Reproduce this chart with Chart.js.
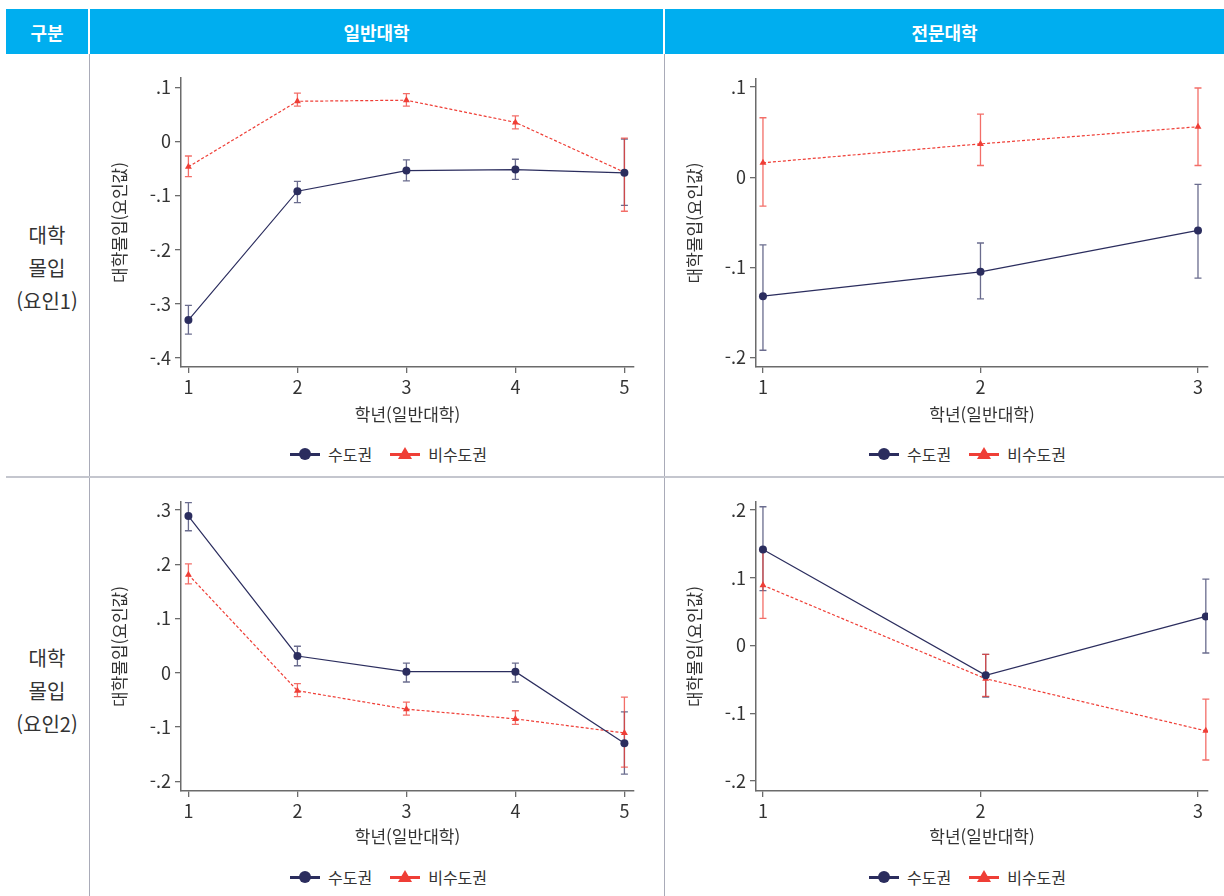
<!DOCTYPE html>
<html lang="ko">
<head>
<meta charset="utf-8">
<script src="https://cdn.jsdelivr.net/npm/chart.js@4.4.1/dist/chart.umd.min.js"></script>
<style>
  body { margin: 0; background: #fff; font-family: "Noto Sans CJK KR", "Noto Sans", sans-serif; }
  #page { position: relative; width: 1224px; height: 896px; overflow: hidden; }
  .hd { position: absolute; top: 9px; height: 45px; background: #00aeef; color: #fff; font-weight: bold;
        font-size: 18px; display: flex; align-items: center; justify-content: center; }
  .rowlab { position: absolute; left: 6px; width: 82px; text-align: center; font-size: 20px; line-height: 33px; color: #333; }
  .vline { position: absolute; top: 54px; width: 1.5px; height: 842px; background: #a9abb8; }
  .hline { position: absolute; left: 6px; width: 1218px; top: 476px; height: 2px; background: #c4c6ce; }
  canvas { position: absolute; }
  .legend { position: absolute; display: flex; align-items: center; font-size: 16px; color: #333; }
  .legend .item { display: flex; align-items: center; margin-right: 18px; }
  .legend .mk { position: relative; width: 30px; height: 12px; margin-right: 8px; }
  .legend .ln { position: absolute; left: 0; top: 5px; width: 30px; height: 3px; }
  .legend .dot { position: absolute; left: 9px; top: 0; width: 12px; height: 12px; border-radius: 50%; }
  .legend .tri { position: absolute; left: 8px; top: -1px; width: 0; height: 0;
                 border-left: 7px solid transparent; border-right: 7px solid transparent; border-bottom: 12px solid #ef3e36; }
</style>
</head>
<body>
<div id="page">
  <div class="hd" style="left:6px;width:82px;">구분</div>
  <div class="hd" style="left:90px;width:573px;">일반대학</div>
  <div class="hd" style="left:665px;width:559px;">전문대학</div>

  <div class="vline" style="left:88.5px;"></div>
  <div class="vline" style="left:663.5px;"></div>
  <div class="hline"></div>

  <div class="rowlab" style="top:218px;">대학<br>몰입<br>(요인1)</div>
  <div class="rowlab" style="top:641px;">대학<br>몰입<br>(요인2)</div>

  <canvas id="c1" width="573" height="380" style="left:90px;top:55px;"></canvas>
  <canvas id="c2" width="559" height="380" style="left:665px;top:55px;"></canvas>
  <canvas id="c3" width="573" height="380" style="left:90px;top:477px;"></canvas>
  <canvas id="c4" width="559" height="380" style="left:665px;top:477px;"></canvas>

  <div class="legend" style="left:290px;top:442px;"></div>
  <div class="legend" style="left:869px;top:442px;"></div>
  <div class="legend" style="left:290px;top:865px;"></div>
  <div class="legend" style="left:869px;top:865px;"></div>
</div>

<script>
  const seriesNames = ['수도권', '비수도권'];
  const xTitle = '학년(일반대학)';
  const yTitle = '대학몰입(요인값)';

  const gradesGeneral = [1, 2, 3, 4, 5];
  const gradesJunior = [1, 2, 3];
  const gradesJunior2 = [1, 2.024, 3.036];

  // 일반대학 - 요인1
  const metroG1 = [-0.330, -0.092, -0.054, -0.052, -0.058];
  const metroG1Lo = [-0.356, -0.113, -0.073, -0.070, -0.118];
  const metroG1Hi = [-0.303, -0.074, -0.034, -0.033, 0.004];
  const nonMetroG1 = [-0.047, 0.074, 0.076, 0.035, -0.057];
  const nonMetroG1Lo = [-0.065, 0.065, 0.065, 0.023, -0.129];
  const nonMetroG1Hi = [-0.027, 0.089, 0.088, 0.047, 0.006];
  const yTicksG1 = [0.1, 0, -0.1, -0.2, -0.3, -0.4];

  // 전문대학 - 요인1
  const metroJ1 = [-0.132, -0.105, -0.059];
  const metroJ1Lo = [-0.192, -0.135, -0.112];
  const metroJ1Hi = [-0.075, -0.073, -0.008];
  const nonMetroJ1 = [0.016, 0.037, 0.056];
  const nonMetroJ1Lo = [-0.032, 0.013, 0.013];
  const nonMetroJ1Hi = [0.066, 0.070, 0.099];
  const yTicksJ1 = [0.1, 0, -0.1, -0.2];

  // 일반대학 - 요인2
  const metroG2 = [0.289, 0.031, 0.002, 0.002, -0.130];
  const metroG2Lo = [0.262, 0.013, -0.017, -0.017, -0.187];
  const metroG2Hi = [0.314, 0.049, 0.018, 0.018, -0.072];
  const nonMetroG2 = [0.181, -0.033, -0.067, -0.085, -0.111];
  const nonMetroG2Lo = [0.164, -0.044, -0.078, -0.095, -0.174];
  const nonMetroG2Hi = [0.201, -0.020, -0.054, -0.070, -0.045];
  const yTicksG2 = [0.3, 0.2, 0.1, 0, -0.1, -0.2];

  // 전문대학 - 요인2
  const metroJ2 = [0.142, -0.044, 0.043];
  const metroJ2Lo = [0.081, -0.076, -0.011];
  const metroJ2Hi = [0.205, -0.013, 0.098];
  const nonMetroJ2 = [0.089, -0.049, -0.126];
  const nonMetroJ2Lo = [0.040, -0.075, -0.169];
  const nonMetroJ2Hi = [0.140, -0.013, -0.079];
  const yTicksJ2 = [0.2, 0.1, 0, -0.1, -0.2];

  const navy = '#2b2d5e';
  const navyBar = 'rgba(43, 45, 94, 0.7)';
  const red = '#ef3e36';
  const redBar = 'rgba(239, 62, 54, 0.75)';
  const axisColor = '#6b6b6b';
  const textColor = '#333';
  const fontFamily = '"Noto Sans CJK KR", "Noto Sans", sans-serif';

  const fmtTick = (v) => {
    if (Math.abs(v) < 1e-9) return '0';
    return (v < 0 ? '-' : '') + Math.abs(v).toFixed(1).replace(/^0/, '');
  };

  const toPoints = (xs, ys) => xs.map((x, i) => ({ x: x, y: ys[i] }));

  // error bars drawn from each dataset's lo / hi arrays
  const errorBars = {
    id: 'errorBars',
    beforeDatasetsDraw(chart) {
      const { ctx, scales: { x, y } } = chart;
      chart.data.datasets.forEach((ds) => {
        if (!ds.lo) return;
        ctx.save();
        ctx.strokeStyle = ds.barColor;
        ctx.lineWidth = 1.3;
        ds.data.forEach((p, i) => {
          const px = x.getPixelForValue(p.x);
          const y1 = y.getPixelForValue(ds.lo[i]);
          const y2 = y.getPixelForValue(ds.hi[i]);
          ctx.beginPath();
          ctx.moveTo(px, y1); ctx.lineTo(px, y2);
          ctx.moveTo(px - 3.5, y1); ctx.lineTo(px + 3.5, y1);
          ctx.moveTo(px - 3.5, y2); ctx.lineTo(px + 3.5, y2);
          ctx.stroke();
        });
        ctx.restore();
      });
    }
  };

  const makeChart = (id, cfg) => {
    const ctx = document.getElementById(id);
    return new Chart(ctx, {
      type: 'line',
      data: {
        datasets: [
          {
            label: seriesNames[0],
            data: toPoints(cfg.xs, cfg.metro),
            lo: cfg.metroLo,
            hi: cfg.metroHi,
            barColor: navyBar,
            borderColor: navy,
            backgroundColor: navy,
            borderWidth: 1.2,
            pointStyle: 'circle',
            pointRadius: 4,
            pointBorderWidth: 0,
            tension: 0,
          },
          {
            label: seriesNames[1],
            data: toPoints(cfg.xs, cfg.nonMetro),
            lo: cfg.nonMetroLo,
            hi: cfg.nonMetroHi,
            barColor: redBar,
            borderColor: red,
            backgroundColor: red,
            borderWidth: 1.2,
            borderDash: [3, 2],
            pointStyle: 'triangle',
            pointRadius: 4,
            pointBorderWidth: 0,
            tension: 0,
          },
        ],
      },
      options: {
        responsive: false,
        animation: false,
        layout: {
          padding: { top: cfg.padTop, right: cfg.padRight, left: 0, bottom: 0 },
        },
        scales: {
          x: {
            type: 'linear',
            min: cfg.xMin,
            max: cfg.xMax,
            afterBuildTicks: (axis) => { axis.ticks = cfg.xTicks.map(v => ({ value: v })); },
            afterFit: (axis) => { axis.height = cfg.xAxisH; },
            ticks: {
              color: textColor,
              font: { family: fontFamily, size: 18 },
              padding: 3,
              maxRotation: 0,
              callback: (v) => String(v),
            },
            grid: { drawOnChartArea: false, drawTicks: true, tickLength: 6, color: axisColor, lineWidth: 1.3 },
            border: { display: true, color: axisColor, width: 1.5 },
            title: {
              display: true,
              text: xTitle,
              color: textColor,
              font: { family: fontFamily, size: 17 },
              padding: { top: 0, bottom: 10 },
            },
          },
          y: {
            type: 'linear',
            min: cfg.yMin,
            max: cfg.yMax,
            afterBuildTicks: (axis) => { axis.ticks = cfg.yTicks.map(v => ({ value: v })); },
            afterFit: (axis) => { axis.width = cfg.yAxisW; },
            ticks: {
              color: textColor,
              font: { family: fontFamily, size: 18 },
              padding: 4,
              callback: (v) => fmtTick(v),
            },
            grid: { drawOnChartArea: false, drawTicks: true, tickLength: 6, color: axisColor, lineWidth: 1.3 },
            border: { display: true, color: axisColor, width: 1.5 },
            title: {
              display: true,
              text: yTitle,
              color: textColor,
              font: { family: fontFamily, size: 17 },
              padding: { top: cfg.yTitlePad, bottom: 0 },
            },
          },
        },
        plugins: {
          legend: { display: false },
          tooltip: { enabled: false },
        },
      },
      plugins: [errorBars],
    });
  };

  makeChart('c1', {
    xs: gradesGeneral, xTicks: gradesGeneral, xMin: 0.932, xMax: 5.088,
    yTicks: yTicksG1, yMin: -0.4166, yMax: 0.117,
    metro: metroG1, metroLo: metroG1Lo, metroHi: metroG1Hi,
    nonMetro: nonMetroG1, nonMetroLo: nonMetroG1Lo, nonMetroHi: nonMetroG1Hi,
    padTop: 23, padRight: 29, yAxisW: 91, xAxisH: 68, yTitlePad: 19,
  });

  makeChart('c2', {
    xs: gradesJunior, xTicks: gradesJunior, xMin: 0.968, xMax: 3.046,
    yTicks: yTicksJ1, yMin: -0.2106, yMax: 0.109,
    metro: metroJ1, metroLo: metroJ1Lo, metroHi: metroJ1Hi,
    nonMetro: nonMetroJ1, nonMetroLo: nonMetroJ1Lo, nonMetroHi: nonMetroJ1Hi,
    padTop: 24, padRight: 16, yAxisW: 91, xAxisH: 68, yTitlePad: 19,
  });

  makeChart('c3', {
    xs: gradesGeneral, xTicks: gradesGeneral, xMin: 0.932, xMax: 5.088,
    yTicks: yTicksG2, yMin: -0.218, yMax: 0.315,
    metro: metroG2, metroLo: metroG2Lo, metroHi: metroG2Hi,
    nonMetro: nonMetroG2, nonMetroLo: nonMetroG2Lo, nonMetroHi: nonMetroG2Hi,
    padTop: 25, padRight: 29, yAxisW: 91, xAxisH: 66, yTitlePad: 19,
  });

  makeChart('c4', {
    xs: gradesJunior2, xTicks: gradesJunior, xMin: 0.968, xMax: 3.046,
    yTicks: yTicksJ2, yMin: -0.2148, yMax: 0.212,
    metro: metroJ2, metroLo: metroJ2Lo, metroHi: metroJ2Hi,
    nonMetro: nonMetroJ2, nonMetroLo: nonMetroJ2Lo, nonMetroHi: nonMetroJ2Hi,
    padTop: 25, padRight: 16, yAxisW: 91, xAxisH: 66, yTitlePad: 19,
  });

  // legends
  document.querySelectorAll('.legend').forEach((el) => {
    el.innerHTML =
      '<div class="item"><div class="mk"><div class="ln" style="background:' + navy + '"></div><div class="dot" style="background:' + navy + '"></div></div>' + seriesNames[0] + '</div>' +
      '<div class="item"><div class="mk"><div class="ln" style="background:' + red + '"></div><div class="tri"></div></div>' + seriesNames[1] + '</div>';
  });
</script>
</body>
</html>
